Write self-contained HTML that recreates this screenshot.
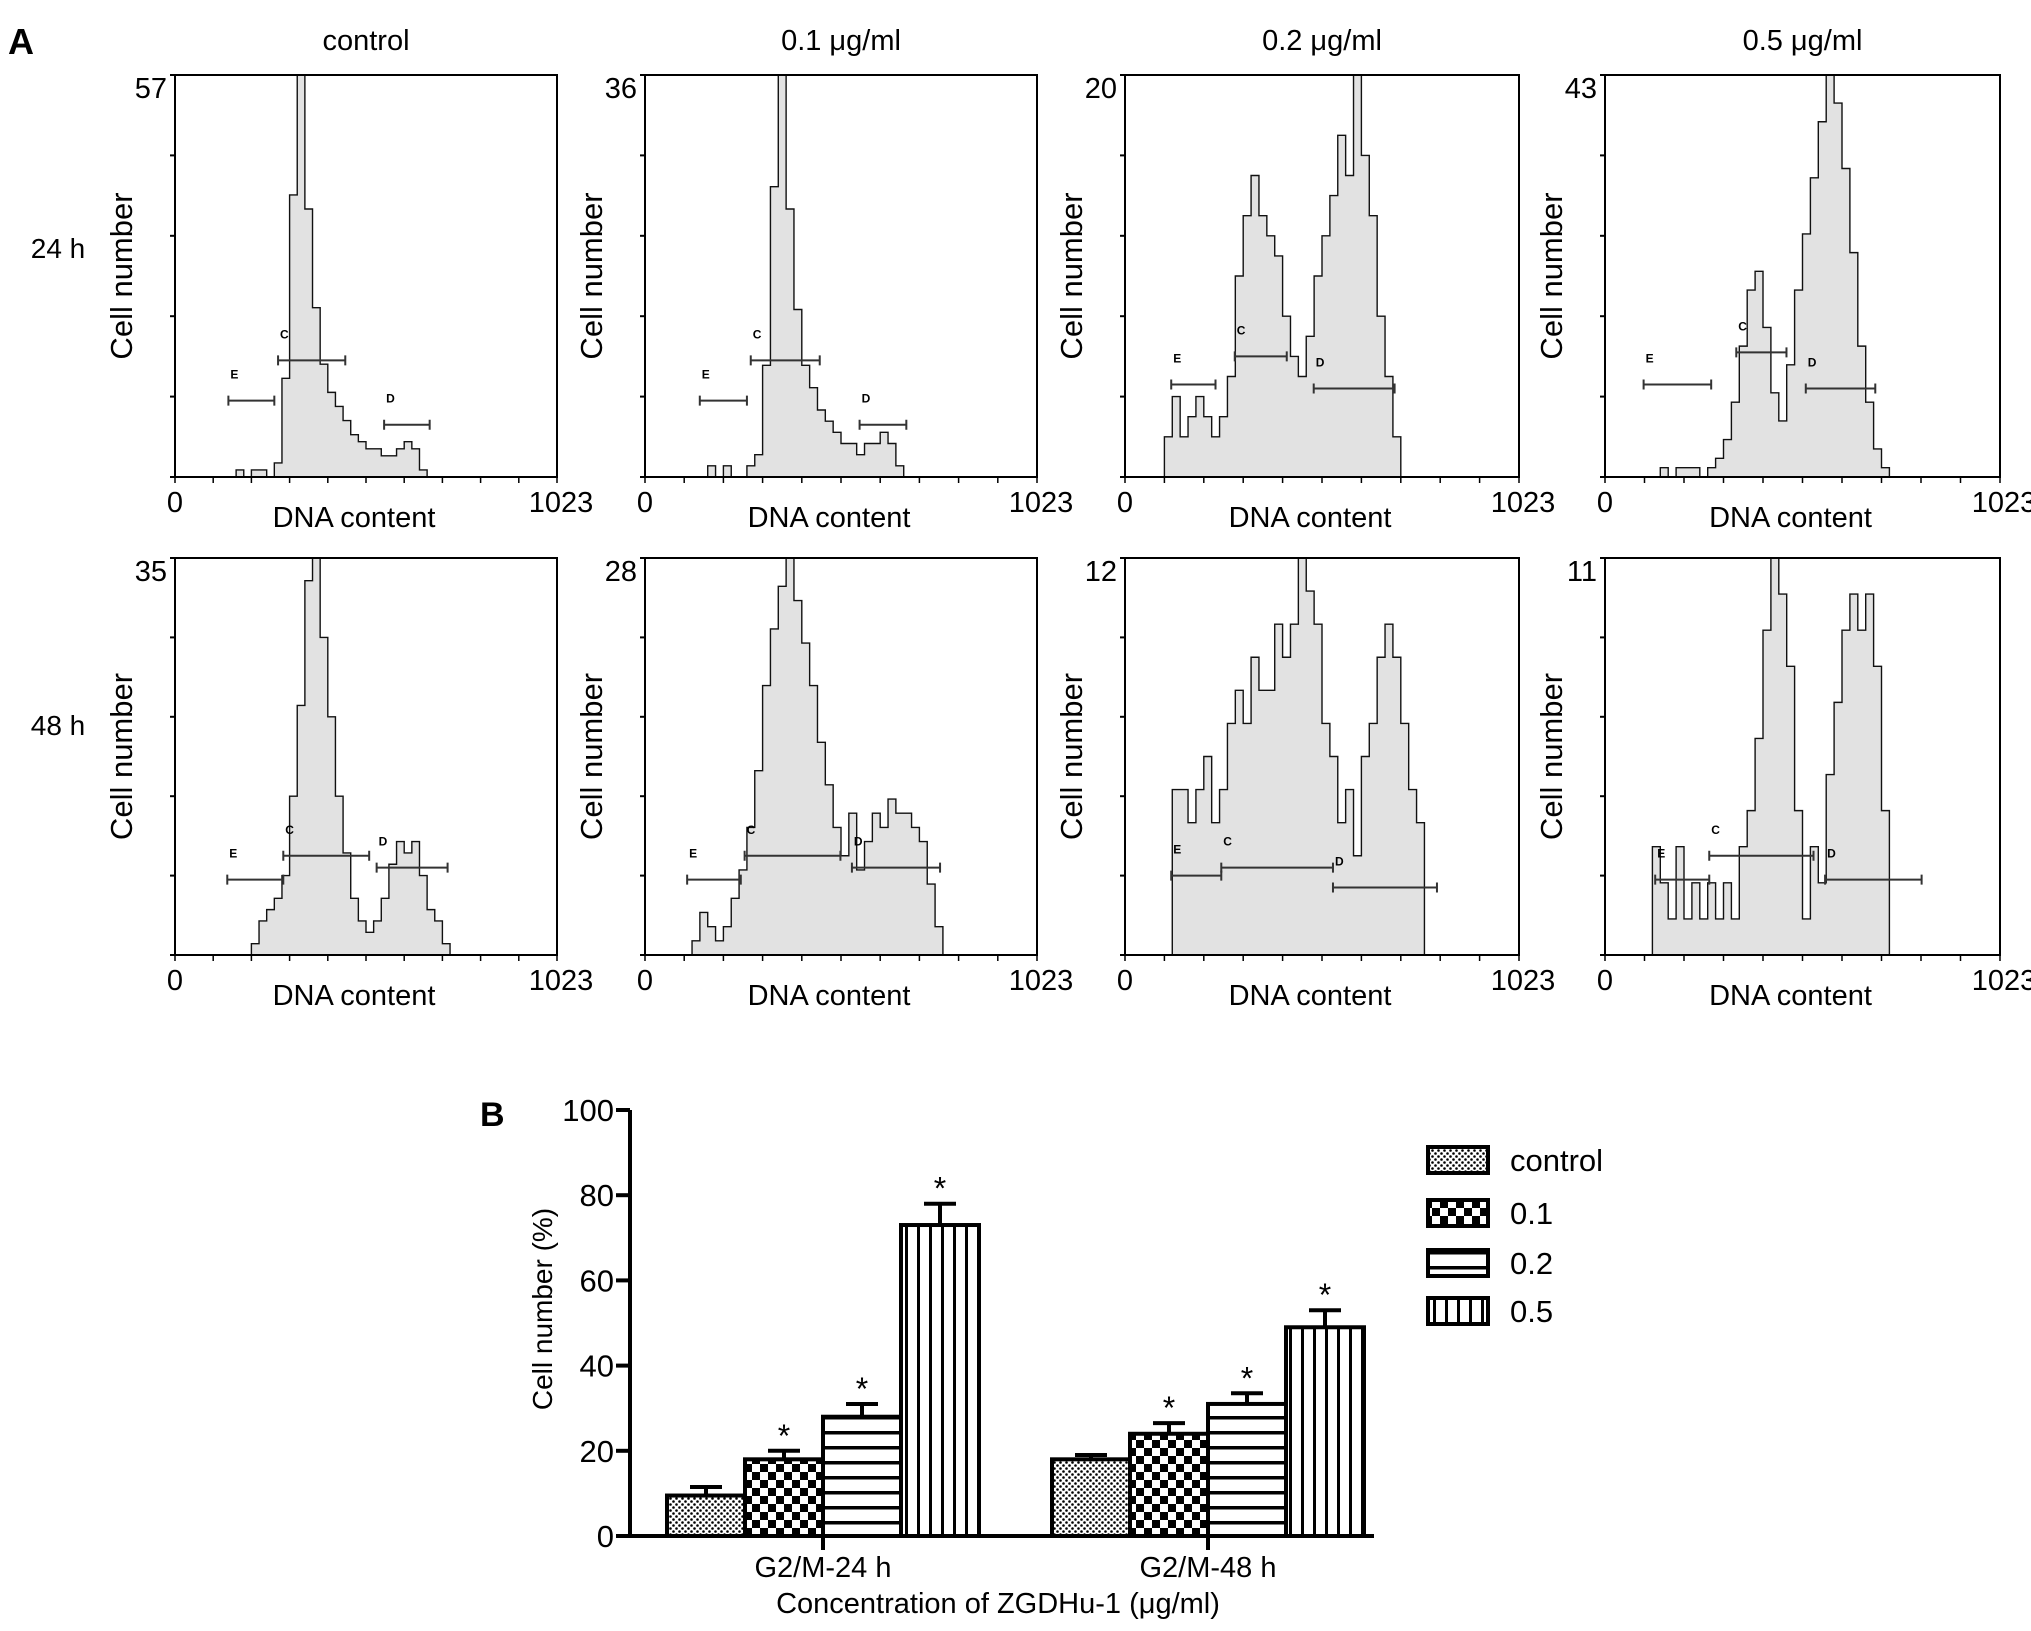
<!DOCTYPE html>
<html><head><meta charset="utf-8"><style>
body{margin:0;background:#fff;}
svg{display:block;font-family:"Liberation Sans",sans-serif;}
</style></head><body>
<svg id="fig" width="2031" height="1631" viewBox="0 0 2031 1631" xmlns="http://www.w3.org/2000/svg">
<defs>
<pattern id="pDots" width="6" height="6" patternUnits="userSpaceOnUse"><rect width="6" height="6" fill="#fff"/><circle cx="1.5" cy="1.5" r="1.3" fill="#000"/><circle cx="4.5" cy="4.5" r="1.3" fill="#000"/></pattern>
<pattern id="pCheck" width="16" height="16" patternUnits="userSpaceOnUse"><rect width="16" height="16" fill="#fff"/><rect width="8" height="8" fill="#000"/><rect x="8" y="8" width="8" height="8" fill="#000"/></pattern>
<pattern id="pHor" width="10" height="15" patternUnits="userSpaceOnUse"><rect width="10" height="15" fill="#fff"/><rect y="6" width="10" height="3.5" fill="#000"/></pattern>
<pattern id="pVer" width="12" height="10" patternUnits="userSpaceOnUse"><rect width="12" height="10" fill="#fff"/><rect x="5" width="3" height="10" fill="#000"/></pattern>
</defs>
<text x="8" y="54" font-size="36" font-weight="bold">A</text>
<text x="480" y="1126" font-size="34" font-weight="bold">B</text>
<text x="58" y="258" font-size="28" text-anchor="middle">24 h</text>
<text x="58" y="735" font-size="28" text-anchor="middle">48 h</text>
<g id="hists"></g>
<g id="bars"></g>
</svg>
<script>
// ---------- Histogram data (50 bins over 0..1023) ----------
const histTitles = ["control", "0.1 μg/ml", "0.2 μg/ml", "0.5 μg/ml"];
const histMax = [57, 36, 20, 43, 35, 28, 12, 11];
const histStart = [8, 8, 5, 7, 10, 6, 6, 6];
const h0 = [1,0,1,1,0,2,14,40,57,38,24,16,12,10,8,6,5,4,4,3,3,4,5,4,1];
const h1 = [1,0,1,0,0,1,2,10,26,36,24,15,10,8,6,5,4,3,3,2,3,3,4,3,1];
const h2 = [2,4,2,3,4,3,2,3,5,10,13,15,13,12,11,8,6,5,7,10,12,14,17,15,20,16,13,8,5,2];
const h3 = [1,0,1,1,1,0,1,2,4,8,14,20,22,16,9,6,12,20,26,32,38,43,40,33,24,14,8,3,1];
const h4 = [1,3,4,5,7,14,22,33,35,28,21,14,9,5,3,2,3,5,8,10,9,10,7,4,3,1];
const h5 = [1,3,2,1,2,4,6,9,13,19,23,26,28,25,22,19,15,12,9,7,10,6,8,10,9,11,10,10,9,8,5,2];
const h6 = [5,5,4,5,6,4,5,7,8,7,9,8,8,10,9,10,12,11,10,7,6,4,5,3,6,7,9,10,9,7,5,4];
const h7 = [3,2,1,3,1,2,1,2,1,2,1,3,4,6,9,11,10,8,4,1,3,2,5,7,9,10,9,10,8,4];
const histValues = [h0,h1,h2,h3,h4,h5,h6,h7];
// gates: [label, from(0..1023), to, level as fraction of max]
const gates = [
 [["E",143,266,0.19],["C",276,456,0.29],["D",560,682,0.13]],
 [["E",143,266,0.19],["C",276,456,0.29],["D",560,682,0.13]],
 [["E",120,235,0.23],["C",285,420,0.30],["D",490,700,0.22]],
 [["E",100,275,0.23],["C",340,470,0.31],["D",520,700,0.22]],
 [["E",140,290,0.19],["C",290,520,0.25],["D",540,730,0.22]],
 [["E",110,250,0.19],["C",260,510,0.25],["D",540,770,0.22]],
 [["E",120,250,0.20],["C",250,540,0.22],["D",540,810,0.17]],
 [["E",130,270,0.19],["C",270,540,0.25],["D",570,820,0.19]]
];
const boxesX = [[175,557],[645,1037],[1125,1519],[1605,2000]];
const boxesY = [[75,477],[558,955]];

const NS="http://www.w3.org/2000/svg";
function mk(tag, attrs, parent){const e=document.createElementNS(NS,tag);for(const k in attrs)e.setAttribute(k,attrs[k]);parent.appendChild(e);return e;}
const hg=document.getElementById('hists');
for(let p=0;p<8;p++){
  const r=Math.floor(p/4), c=p%4;
  const [x0,x1]=boxesX[c], [y0,y1]=boxesY[r];
  const W=x1-x0, H=y1-y0;
  const xs=v=>x0+v/1023*W;
  const ys=v=>y1-v/histMax[p]*H;
  const g=mk('g',{},hg);
  
  
  if(r===0){
    const t=mk('text',{x:(x0+x1)/2,y:50,'font-size':29,'text-anchor':'middle'},g);
    t.textContent=histTitles[c];
    
    
  }
  const vals=histValues[p], st=histStart[p], bw=1023/50;
  let d='M'+xs(st*bw)+','+y1;
  vals.forEach((v,i)=>{d+=' L'+xs((st+i)*bw)+','+ys(v)+' L'+xs((st+i+1)*bw)+','+ys(v);});
  d+=' L'+xs((st+vals.length)*bw)+','+y1+' Z';
  const hp=mk('path',{d:d,fill:'#e2e2e2',stroke:'#111','stroke-width':1.4},g);
  
  
  const bx=mk('rect',{x:x0,y:y0,width:W,height:H,fill:'none',stroke:'#000','stroke-width':2},g);
  
  
  for(let k=0;k<=5;k++){mk('line',{x1:x0-5,x2:x0,y1:y1-k*H/5,y2:y1-k*H/5,stroke:'#000','stroke-width':2},g);}
  for(let k=0;k<=10;k++){mk('line',{x1:x0+k*W/10,x2:x0+k*W/10,y1:y1,y2:y1+6,stroke:'#000','stroke-width':1.5},g);}
  const mx=mk('text',{x:x0-8,y:y0+23,'font-size':29,'text-anchor':'end'},g);
  mx.textContent=histMax[p];
  
  
  const z=mk('text',{x:x0,y:y1+35,'font-size':29,'text-anchor':'middle'},g);
  z.textContent='0';
  
  
  const e=mk('text',{x:x1+4,y:y1+35,'font-size':29,'text-anchor':'middle'},g);
  e.textContent='1023';
  
  
  const xl=mk('text',{x:(x0+x1)/2-12,y:y1+50,'font-size':29,'text-anchor':'middle'},g);
  xl.textContent='DNA content';
  
  
  const yl=mk('text',{x:0,y:0,'font-size':31,'text-anchor':'middle',transform:`translate(${x0-43},${(y0+y1)/2}) rotate(-90)`},g);
  yl.textContent='Cell number';
  
  
  gates[p].forEach(gt=>{
    const gy=ys(gt[3]*histMax[p]);
    const gl=mk('path',{d:`M${xs(gt[1])},${gy-5}V${gy+5}M${xs(gt[1])},${gy}H${xs(gt[2])}M${xs(gt[2])},${gy-5}V${gy+5}`,stroke:'#333','stroke-width':2,fill:'none'},g);
    
    
    const gtx=mk('text',{x:xs(gt[1])+2,y:gy-22,'font-size':12,'font-weight':'bold'},g);
    gtx.textContent=gt[0];
    
    
  });
}

// ---------- Bar chart ----------
const groups = ["G2/M-24 h", "G2/M-48 h"];
const seriesNames = ["control", "0.1", "0.2", "0.5"];
const means24 = [9.5, 18, 28, 73];
const means48 = [18, 24, 31, 49];
const err24 = [2, 2, 3, 5];
const err48 = [1, 2.5, 2.5, 4];
const sig24 = [false, true, true, true];
const sig48 = [false, true, true, true];
const yTicks = [0, 20, 40, 60, 80, 100];
const patterns=['url(#pDots)','url(#pCheck)','url(#pHor)','url(#pVer)'];

const bg=document.getElementById('bars');
const AX=630, Y0=1536, Y100=1110;
const yb=v=>Y0-(v/100)*(Y0-Y100);
const groupStart=[667,1052], BW=78;
const ya=mk('line',{x1:AX,x2:AX,y1:Y100,y2:Y0,stroke:'#000','stroke-width':4},bg);


const xa=mk('line',{x1:616,x2:1374,y1:Y0,y2:Y0,stroke:'#000','stroke-width':4},bg);


yTicks.forEach(t=>{
  mk('line',{x1:AX-14,x2:AX,y1:yb(t),y2:yb(t),stroke:'#000','stroke-width':4},bg);
  const tl=mk('text',{x:AX-16,y:yb(t)+11,'font-size':31,'text-anchor':'end'},bg);
  tl.textContent=t;
  
  
});
[means24,means48].forEach((m,gi)=>{
  const errs=gi?err48:err24, sig=gi?sig48:sig24;
  m.forEach((v,si)=>{
    const x=groupStart[gi]+si*BW;
    const eb=mk('path',{d:`M${x+BW/2},${yb(v)}V${yb(v+errs[si])}M${x+BW/2-16},${yb(v+errs[si])}H${x+BW/2+16}`,stroke:'#000','stroke-width':4,fill:'none'},bg);
    
    
    const b=mk('rect',{x:x,y:yb(v),width:BW,height:Y0-yb(v),fill:patterns[si],stroke:'#000','stroke-width':4},bg);
    
    
    if(sig[si]){
      const s=mk('text',{x:x+BW/2,y:yb(v+errs[si])-4,'font-size':32,'text-anchor':'middle'},bg);
      s.textContent='*';
      
      
    }
  });
  const cx=groupStart[gi]+2*BW;
  mk('line',{x1:cx,x2:cx,y1:Y0,y2:Y0+14,stroke:'#000','stroke-width':4},bg);
  const gl=mk('text',{x:cx,y:1577,'font-size':29,'text-anchor':'middle'},bg);
  gl.textContent=groups[gi];
  
  
});
const xt=mk('text',{x:998,y:1613,'font-size':29,'text-anchor':'middle'},bg);
xt.textContent='Concentration of ZGDHu-1 (μg/ml)';


const yt=mk('text',{x:0,y:0,'font-size':28,'text-anchor':'middle',transform:'translate(552,1309) rotate(-90)'},bg);
yt.textContent='Cell number (%)';


const legY=[1147,1200,1250,1298];
seriesNames.forEach((n,i)=>{
  const sw=mk('rect',{x:1428,y:legY[i],width:60,height:26,fill:patterns[i],stroke:'#000','stroke-width':4},bg);
  
  
  const lt=mk('text',{x:1510,y:legY[i]+24,'font-size':31},bg);
  lt.textContent=n;
  
  
});
</script>
</body></html>
